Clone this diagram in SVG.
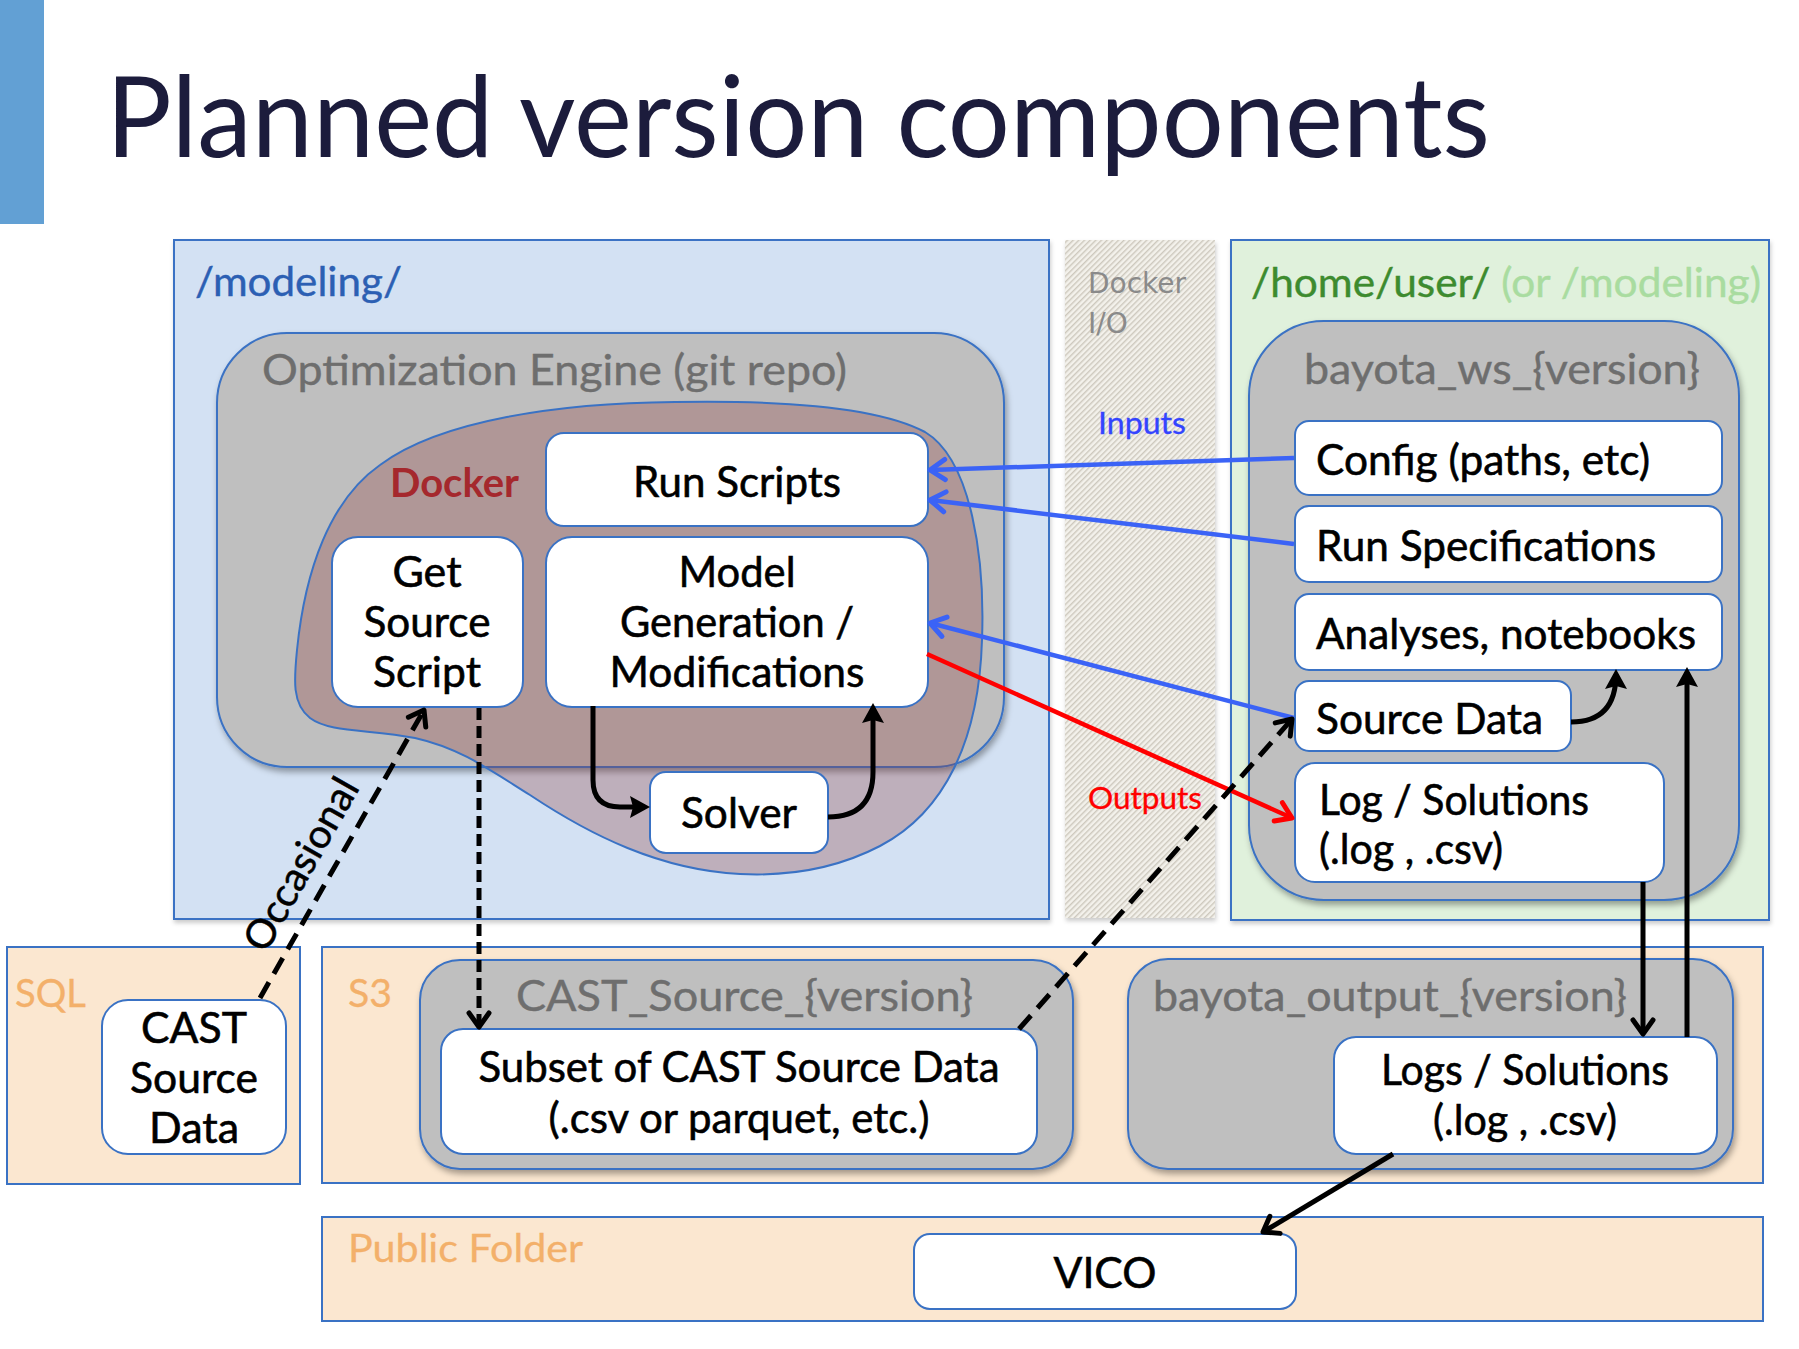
<svg xmlns="http://www.w3.org/2000/svg" width="1799" height="1349" viewBox="0 0 1799 1349">
<style>
  text { font-family: Lato, "Liberation Sans", sans-serif; }
  .box { fill: #ffffff; stroke: #3a72c4; stroke-width: 2; }
  .grp { fill: #bfbfbf; stroke: #3a72c4; stroke-width: 2; }
  .area-blue { fill: #d3e1f3; stroke: #3a72c4; stroke-width: 2; }
  .area-green { fill: #e0f1dc; stroke: #3a72c4; stroke-width: 2; }
  .area-peach { fill: #fbe7d0; stroke: #3a72c4; stroke-width: 2; }
  .t { font-size: 43px; fill: #000000; stroke: #000000; stroke-width: 0.6; }
  .tc { font-size: 43px; fill: #000000; stroke: #000000; stroke-width: 0.6; text-anchor: middle; }
  .glabel { font-size: 43px; fill: #6e6e6e; stroke: #6e6e6e; stroke-width: 0.4; }
  .plabel { font-size: 38px; fill: #f3b06a; stroke: #f3b06a; stroke-width: 0.3; }
  .blue { stroke: #3b63f6; stroke-width: 4.5; fill: none; }
  .red { stroke: #ff0000; stroke-width: 4.5; fill: none; }
  .blk { stroke: #000000; stroke-width: 5; fill: none; }
  .dash { stroke: #000000; stroke-width: 5; fill: none; stroke-dasharray: 18 10; }
  .dash2 { stroke: #000000; stroke-width: 5; fill: none; stroke-dasharray: 12 6; }
</style>
<defs>
  <filter id="shadow" x="-5%" y="-5%" width="112%" height="115%">
    <feDropShadow dx="2" dy="4" stdDeviation="3" flood-color="#000000" flood-opacity="0.35"/>
  </filter>
  <filter id="shadowLight" x="-5%" y="-5%" width="112%" height="115%">
    <feDropShadow dx="1" dy="3" stdDeviation="2" flood-color="#000000" flood-opacity="0.2"/>
  </filter>
  <pattern id="hatch" width="4" height="4" patternUnits="userSpaceOnUse" patternTransform="rotate(45)">
    <rect width="4" height="4" fill="#f3f1eb"/>
    <rect width="1.4" height="4" fill="#cdc8bd"/>
  </pattern>
  <marker id="vBlue" markerUnits="userSpaceOnUse" viewBox="-20 -14 26 28" refX="0" refY="0" markerWidth="26" markerHeight="28" orient="auto">
    <path d="M-15,-10 L0,0 L-15,10" fill="none" stroke="#3b63f6" stroke-width="5" stroke-linecap="round" stroke-linejoin="round"/>
  </marker>
  <marker id="vRed" markerUnits="userSpaceOnUse" viewBox="-20 -14 26 28" refX="0" refY="0" markerWidth="26" markerHeight="28" orient="auto">
    <path d="M-15,-10 L0,0 L-15,10" fill="none" stroke="#ff0000" stroke-width="5" stroke-linecap="round" stroke-linejoin="round"/>
  </marker>
  <marker id="vBlk" markerUnits="userSpaceOnUse" viewBox="-20 -14 26 28" refX="0" refY="0" markerWidth="26" markerHeight="28" orient="auto">
    <path d="M-14,-10 L0,0 L-14,10" fill="none" stroke="#000000" stroke-width="5" stroke-linecap="round" stroke-linejoin="round"/>
  </marker>
  <marker id="triBlk" markerUnits="userSpaceOnUse" viewBox="-20 -14 28 28" refX="0" refY="0" markerWidth="28" markerHeight="28" orient="auto">
    <path d="M-15,-11 L5,0 L-15,11 L-12,0 Z" fill="#000000"/>
  </marker>
</defs>

<!-- title -->
<rect x="0" y="0" width="44" height="224" fill="#62a0d4"/>
<text x="106" y="157" font-size="112" fill="#1c1c3c" textLength="1384" lengthAdjust="spacingAndGlyphs">Planned version components</text>

<!-- areas -->
<g id="modeling-area">
  <rect class="area-blue" x="174" y="240" width="875" height="679" filter="url(#shadowLight)"/>
  <text x="195" y="296" font-size="41" fill="#2c5fb3" stroke="#2c5fb3" stroke-width="0.4" textLength="207" lengthAdjust="spacingAndGlyphs">/modeling/</text>
</g>
<g id="docker-io">
  <rect x="1065" y="240" width="150" height="678" fill="url(#hatch)" filter="url(#shadowLight)"/>
  <text x="1088" y="293" font-size="28" fill="#8a8a8a" style="font-family:'DejaVu Sans',sans-serif">Docker</text>
  <text x="1088" y="333" font-size="28" fill="#8a8a8a" style="font-family:'DejaVu Sans',sans-serif">I/O</text>
  <text x="1098" y="434" font-size="31" fill="#3344ff" stroke="#3344ff" stroke-width="0.3" textLength="88" lengthAdjust="spacingAndGlyphs">Inputs</text>
  <text x="1088" y="809" font-size="31" fill="#ff0000" stroke="#ff0000" stroke-width="0.3" textLength="114" lengthAdjust="spacingAndGlyphs">Outputs</text>
</g>
<g id="home-user-area">
  <rect class="area-green" x="1231" y="240" width="538" height="680" filter="url(#shadowLight)"/>
  <text x="1251" y="297" font-size="41" stroke-width="0.4" textLength="510" lengthAdjust="spacingAndGlyphs"><tspan fill="#3d8b2f" stroke="#3d8b2f">/home/user/</tspan><tspan fill="#a9dca0" stroke="#a9dca0"> (or /modeling)</tspan></text>
</g>
<g id="sql-area">
  <rect class="area-peach" x="7" y="947" width="293" height="237"/>
  <text class="plabel" x="15" y="1007" textLength="71" lengthAdjust="spacingAndGlyphs">SQL</text>
</g>
<g id="s3-area">
  <rect class="area-peach" x="322" y="947" width="1441" height="236"/>
  <text class="plabel" x="348" y="1007" textLength="44" lengthAdjust="spacingAndGlyphs">S3</text>
</g>
<g id="public-folder-area">
  <rect class="area-peach" x="322" y="1217" width="1441" height="104"/>
  <text class="plabel" x="348" y="1262" textLength="235" lengthAdjust="spacingAndGlyphs">Public Folder</text>
</g>

<!-- groups -->
<g id="optimization-engine">
  <rect class="grp" x="217" y="333" width="787" height="434" rx="70" ry="70" filter="url(#shadow)"/>
  <text class="glabel" x="262" y="385" textLength="585" lengthAdjust="spacingAndGlyphs">Optimization Engine (git repo)</text>
</g>
<g id="docker">
  <path d="M675,402 C790,400 880,408 925,432 C972,460 985,560 982,640 C979,740 945,812 880,846 C830,872 780,876 740,874 C660,870 590,835 530,795 C490,770 460,748 415,738 C370,729 330,733 310,718 C292,704 294,680 297,650 C305,570 330,500 380,465 C440,420 560,403 675,402 Z" fill="rgb(144,58,58)" fill-opacity="0.3" stroke="#3a72c4" stroke-width="2"/>
  <text x="390" y="497" font-size="41" font-weight="bold" fill="#a5282d" textLength="129" lengthAdjust="spacingAndGlyphs">Docker</text>
</g>
<g id="bayota-ws">
  <rect class="grp" x="1249" y="321" width="490" height="579" rx="75" ry="75" filter="url(#shadow)"/>
  <text class="glabel" x="1304" y="384" textLength="396" lengthAdjust="spacingAndGlyphs">bayota_ws_{version}</text>
</g>
<g id="cast-source-version">
  <rect class="grp" x="420" y="960" width="653" height="209" rx="40" ry="40" filter="url(#shadow)"/>
  <text class="glabel" x="516" y="1011" textLength="457" lengthAdjust="spacingAndGlyphs">CAST_Source_{version}</text>
</g>
<g id="bayota-output">
  <rect class="grp" x="1128" y="959" width="605" height="210" rx="40" ry="40" filter="url(#shadow)"/>
  <text class="glabel" x="1153" y="1011" textLength="474" lengthAdjust="spacingAndGlyphs">bayota_output_{version}</text>
</g>

<!-- nodes -->
<g id="run-scripts">
  <rect class="box" x="546" y="433" width="382" height="93" rx="18"/>
  <text class="tc" x="737" y="497" textLength="208" lengthAdjust="spacingAndGlyphs">Run Scripts</text>
</g>
<g id="get-source-script">
  <rect class="box" x="332" y="537" width="191" height="170" rx="26"/>
  <text class="tc" x="427" y="587">Get</text>
  <text class="tc" x="427" y="637" textLength="127" lengthAdjust="spacingAndGlyphs">Source</text>
  <text class="tc" x="427" y="687" textLength="108" lengthAdjust="spacingAndGlyphs">Script</text>
</g>
<g id="model-generation">
  <rect class="box" x="546" y="537" width="382" height="170" rx="26"/>
  <text class="tc" x="737" y="587" textLength="117" lengthAdjust="spacingAndGlyphs">Model</text>
  <text class="tc" x="737" y="637" textLength="234" lengthAdjust="spacingAndGlyphs">Generation /</text>
  <text class="tc" x="737" y="687" textLength="255" lengthAdjust="spacingAndGlyphs">Modifications</text>
</g>
<g id="solver">
  <rect class="box" x="650" y="772" width="178" height="81" rx="16"/>
  <text class="tc" x="739" y="828" textLength="116" lengthAdjust="spacingAndGlyphs">Solver</text>
</g>
<g id="config">
  <rect class="box" x="1295" y="421" width="427" height="74" rx="14"/>
  <text class="t" x="1316" y="475" textLength="334" lengthAdjust="spacingAndGlyphs">Config (paths, etc)</text>
</g>
<g id="run-specifications">
  <rect class="box" x="1295" y="506" width="427" height="76" rx="14"/>
  <text class="t" x="1316" y="561" textLength="340" lengthAdjust="spacingAndGlyphs">Run Specifications</text>
</g>
<g id="analyses">
  <rect class="box" x="1295" y="594" width="427" height="76" rx="14"/>
  <text class="t" x="1316" y="649" textLength="380" lengthAdjust="spacingAndGlyphs">Analyses, notebooks</text>
</g>
<g id="source-data">
  <rect class="box" x="1295" y="681" width="276" height="70" rx="14"/>
  <text class="t" x="1316" y="734" textLength="227" lengthAdjust="spacingAndGlyphs">Source Data</text>
</g>
<g id="log-solutions">
  <rect class="box" x="1295" y="763" width="369" height="119" rx="20"/>
  <text class="t" x="1319" y="815" textLength="270" lengthAdjust="spacingAndGlyphs">Log / Solutions</text>
  <text class="t" x="1319" y="864" textLength="184" lengthAdjust="spacingAndGlyphs">(.log , .csv)</text>
</g>
<g id="cast-source-data">
  <rect class="box" x="102" y="1000" width="184" height="154" rx="26"/>
  <text class="tc" x="194" y="1043" textLength="106" lengthAdjust="spacingAndGlyphs">CAST</text>
  <text class="tc" x="194" y="1093" textLength="128" lengthAdjust="spacingAndGlyphs">Source</text>
  <text class="tc" x="194" y="1143" textLength="90" lengthAdjust="spacingAndGlyphs">Data</text>
</g>
<g id="subset-cast-source">
  <rect class="box" x="441" y="1029" width="596" height="125" rx="22"/>
  <text class="tc" x="739" y="1082" textLength="521" lengthAdjust="spacingAndGlyphs">Subset of CAST Source Data</text>
  <text class="tc" x="739" y="1133" textLength="381" lengthAdjust="spacingAndGlyphs">(.csv or parquet, etc.)</text>
</g>
<g id="logs-solutions-output">
  <rect class="box" x="1334" y="1037" width="383" height="117" rx="22"/>
  <text class="tc" x="1525" y="1085" textLength="288" lengthAdjust="spacingAndGlyphs">Logs / Solutions</text>
  <text class="tc" x="1525" y="1135" textLength="184" lengthAdjust="spacingAndGlyphs">(.log , .csv)</text>
</g>
<g id="vico">
  <rect class="box" x="914" y="1234" width="382" height="75" rx="16"/>
  <text class="tc" x="1105" y="1288" textLength="103" lengthAdjust="spacingAndGlyphs">VICO</text>
</g>

<!-- connectors -->
<g id="connectors">
  <path class="blue" d="M1294,458 L930,470" marker-end="url(#vBlue)"/>
  <path class="blue" d="M1294,544 L930,500" marker-end="url(#vBlue)"/>
  <path class="blue" d="M1294,718 L930,623" marker-end="url(#vBlue)"/>
  <path class="red" d="M927,654 L1292,818" marker-end="url(#vRed)"/>
  <path class="blk" d="M593,706 L593,780 Q593,807 620,807 L645,807" marker-end="url(#triBlk)"/>
  <path class="blk" d="M828,817 Q873,817 873,772 L873,708" marker-end="url(#triBlk)"/>
  <path class="blk" d="M1571,722 Q1616,722 1616,674" marker-end="url(#triBlk)"/>
  <path class="blk" d="M1643,882 L1643,1034" marker-end="url(#vBlk)"/>
  <path class="blk" d="M1687,1037 L1687,672" marker-end="url(#triBlk)"/>
  <path class="blk" d="M1393,1154 L1263,1232" marker-end="url(#vBlk)"/>
  <path class="dash" d="M260,998 L424,710" marker-end="url(#vBlk)"/>
  <path class="dash2" d="M479,708 L479,1027" marker-end="url(#vBlk)"/>
  <path class="dash" d="M1019,1029 L1292,719" marker-end="url(#vBlk)"/>
  <text x="313" y="871" font-size="40" fill="#000000" stroke="#000000" stroke-width="0.5" text-anchor="middle" transform="rotate(-60.45 313 871)" textLength="192" lengthAdjust="spacingAndGlyphs">Occasional</text>
</g>
</svg>
